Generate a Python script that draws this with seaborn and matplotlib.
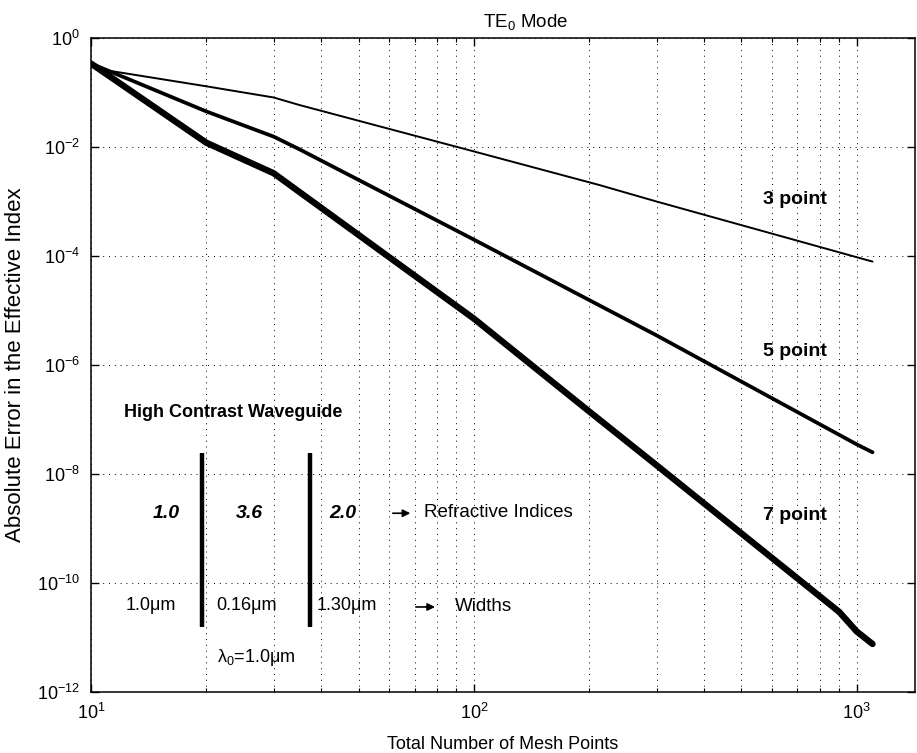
import numpy as np
import pandas as pd
import seaborn as sns
import matplotlib
matplotlib.use("Agg")
import matplotlib.pyplot as plt
from matplotlib.ticker import FixedLocator, NullLocator, LogLocator, LogFormatterMathtext, NullFormatter

# Values (total mesh points vs. absolute error)
n_3pt = [10, 10.8, 20, 30, 35, 100, 213, 300, 1000, 1100]
err_3pt = [3.4e-1, 2.6e-1, 1.3e-1, 8.1e-2, 5.9e-2, 8.3e-3, 2.0e-3, 1.0e-3, 9.5e-5, 7.9e-5]

n_5pt = [10, 20, 30, 35, 100, 300, 1000, 1100]
err_5pt = [3.4e-1, 4.5e-2, 1.55e-2, 9.1e-3, 2.0e-4, 3.5e-6, 3.5e-8, 2.5e-8]

n_7pt = [10, 20, 30, 35, 100, 200, 300, 900, 1000, 1100]
err_7pt = [3.4e-1, 1.2e-2, 3.3e-3, 1.5e-3, 7.1e-6, 1.41e-7, 1.45e-8, 2.95e-11, 1.29e-11, 7.6e-12]

schemes = ["3 point", "5 point", "7 point"]
line_widths = {"3 point": 1.4, "5 point": 2.7, "7 point": 4.6}

y_ticks = [1e0, 1e-2, 1e-4, 1e-6, 1e-8, 1e-10, 1e-12]

df = pd.concat([
    pd.DataFrame({"N": n_3pt, "err": err_3pt, "scheme": "3 point"}),
    pd.DataFrame({"N": n_5pt, "err": err_5pt, "scheme": "5 point"}),
    pd.DataFrame({"N": n_7pt, "err": err_7pt, "scheme": "7 point"}),
], ignore_index=True)

sns.set_theme(style="ticks")
fam = ["Liberation Sans", "DejaVu Sans"]
plt.rcParams["font.family"] = fam
plt.rcParams["text.color"] = "black"
plt.rcParams["axes.labelcolor"] = "black"
plt.rcParams["xtick.color"] = "black"
plt.rcParams["ytick.color"] = "black"
plt.rcParams["mathtext.fontset"] = "custom"
plt.rcParams["mathtext.rm"] = "Liberation Sans"
plt.rcParams["mathtext.it"] = "Liberation Sans:italic"
plt.rcParams["mathtext.bf"] = "Liberation Sans:bold"

FS = 13

fig = plt.figure(figsize=(9.17, 7.53), dpi=100)
ax = fig.add_axes([91 / 917, 1 - 692 / 753, (915 - 91) / 917, (692 - 38) / 753])
ax.set_xscale("log")
ax.set_yscale("log")

sns.lineplot(data=df, x="N", y="err", hue="scheme", size="scheme",
             sizes=line_widths, palette={s: "black" for s in schemes},
             estimator=None, sort=False, legend=False, ax=ax, zorder=3)

ax.set_xlim(10, 1420)
ax.set_ylim(1e-12, 1e0)

ax.xaxis.set_major_locator(LogLocator(base=10))
ax.xaxis.set_minor_locator(LogLocator(base=10, subs=np.arange(2, 10)))
ax.xaxis.set_major_formatter(LogFormatterMathtext())
ax.xaxis.set_minor_formatter(NullFormatter())
ax.yaxis.set_major_locator(FixedLocator(y_ticks))
ax.yaxis.set_major_formatter(LogFormatterMathtext())
ax.yaxis.set_minor_locator(NullLocator())

grid_kw = dict(color="black", lw=0.7, linestyle=(0, (1, 5)))
ax.grid(which="major", axis="both", **grid_kw)
ax.grid(which="minor", axis="x", **grid_kw)

ax.tick_params(which="both", direction="in", top=True, right=True, colors="black",
               labelsize=FS)
ax.tick_params(which="major", length=6, width=1)
ax.tick_params(which="minor", length=3, width=0.8)
ax.tick_params(axis="y", pad=8)
ax.tick_params(axis="x", pad=8)
for sp in ax.spines.values():
    sp.set_color("black")
    sp.set_linewidth(1.1)

ax.set_xlabel("Total Number of Mesh Points", fontsize=FS, labelpad=9)
ax.set_ylabel("Absolute Error in the Effective Index", fontsize=16, labelpad=8)
ax.set_title("TE$_0$ Mode", fontsize=FS + 0.5, x=0.527, pad=8)

# curve labels
ax.text(569, 10**-2.97, "3 point", fontsize=14, fontweight="bold", va="center", ha="left")
ax.text(569, 10**-5.76, "5 point", fontsize=14, fontweight="bold", va="center", ha="left")
ax.text(569, 10**-8.77, "7 point", fontsize=14, fontweight="bold", va="center", ha="left")

# waveguide sketch
ax.text(12.2, 10**-6.875, "High Contrast Waveguide", fontsize=FS, fontweight="bold",
        va="center", ha="left")
ax.vlines([19.5, 37.3], 10**-10.8, 10**-7.62, color="black", lw=3.2, zorder=4)
for xc, s in [(15.7, "1.0"), (26.0, "3.6"), (45.5, "2.0")]:
    ax.text(xc, 10**-8.72, s, fontsize=FS + 1, fontweight="bold", fontstyle="italic",
            va="center", ha="center")
for xc, s in [(14.3, "1.0μm"), (25.5, "0.16μm"), (46.6, "1.30μm")]:
    ax.text(xc, 10**-10.41, s, fontsize=FS, va="center", ha="center", family=fam)
ax.text(21.3, 10**-11.36, "λ$_0$=1.0μm", fontsize=FS, va="center", ha="left", family=fam)

arrow_kw = dict(arrowstyle="-|>", color="black", lw=1.2, mutation_scale=11)
ax.annotate("", xy=(69.4, 10**-8.72), xytext=(60.4, 10**-8.72), arrowprops=arrow_kw)
ax.annotate("", xy=(80.5, 10**-10.44), xytext=(69.4, 10**-10.44), arrowprops=arrow_kw)
ax.text(74.0, 10**-8.70, "Refractive Indices", fontsize=FS + 0.5, va="center", ha="left")
ax.text(89.1, 10**-10.43, "Widths", fontsize=FS + 0.5, va="center", ha="left")

fig.savefig("out.png", dpi=100, facecolor="white")
